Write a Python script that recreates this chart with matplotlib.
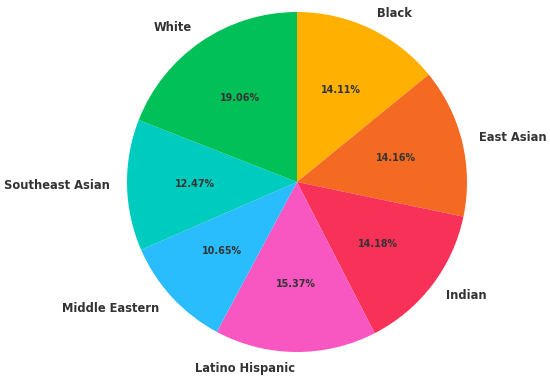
import matplotlib
matplotlib.use("Agg")
import matplotlib.pyplot as plt

# Datos
labels = [
    "Black",
    "East Asian",
    "Indian",
    "Latino Hispanic",
    "Middle Eastern",
    "Southeast Asian",
    "White",
]
shares = [14.11, 14.16, 14.18, 15.37, 10.65, 12.47, 19.06]
colors = [
    "#FFB000",
    "#F46A22",
    "#F73157",
    "#F857C1",
    "#29BDFD",
    "#00CBBF",
    "#01C057",
]

fig = plt.figure(figsize=(5.5, 3.82), dpi=100)
ax = fig.add_axes([0, 0, 1, 1])

ax.pie(
    shares,
    labels=labels,
    colors=colors,
    startangle=90,
    counterclock=False,
    autopct="%.2f%%",
    pctdistance=0.6,
    labeldistance=1.1,
    textprops={"fontsize": 8.3, "fontweight": "bold", "color": "#333333"},
)

for t in ax.texts:
    if t.get_text().endswith("%"):
        t.set_fontsize(6.9)

# centro en (297, 182) px, radio 170 px
ax.set_xlim(-297 / 170, (550 - 297) / 170)
ax.set_ylim(-(382 - 182) / 170, 182 / 170)
ax.set_aspect("equal")

fig.savefig("out.png", dpi=100)
